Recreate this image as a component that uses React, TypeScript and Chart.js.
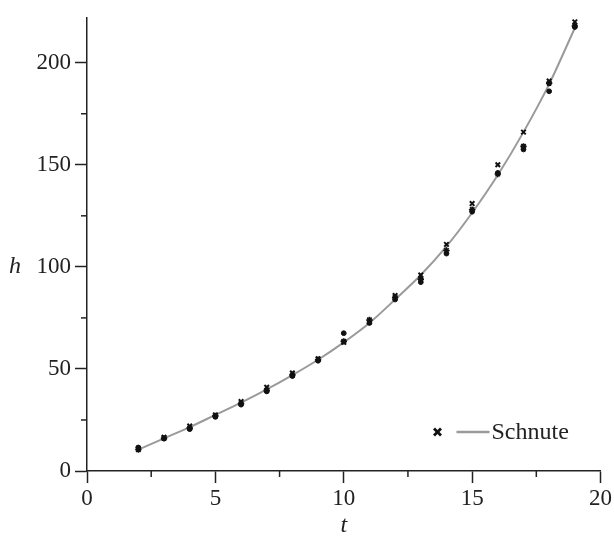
import React, { useEffect, useRef } from "react";
import { Chart, registerables } from "chart.js";

Chart.register(...registerables);

// ---- data ----
const tValues = [2, 3, 4, 5, 6, 7, 8, 9, 10, 11, 12, 13, 14, 15, 16, 17, 18, 19];
const schnuteFit = [10.5, 16, 21.5, 27.5, 33.5, 40, 47, 54.5, 63, 72.5, 84, 96, 110, 126.5, 145, 166, 189.5, 217];
const rep1 = [11, 16.5, 22, 27.5, 34, 41, 48, 55, 63, 73, 86, 96, 111, 131, 150, 166, 191, 220];
const rep2 = [10.5, 16, 21, 27, 33, 39.5, 47, 54.5, 63.5, 74, 85, 94, 108, 128, 145.5, 159, 190, 218];
const rep3 = [11.5, 16, 20.5, 26.5, 32.5, 39, 46.5, 54, 67.5, 72.5, 84, 92.5, 106.5, 127, 146, 157.5, 186, 217.5];

const xMajorTicks = [0, 5, 10, 15, 20];
const yMajorTicks = [0, 50, 100, 150, 200];
const xMinorTicks = [2.5, 7.5, 12.5, 17.5];
const yMinorTicks = [25, 75, 125, 175];
const xTitle = "t";
const yTitle = "h";
const legendLabel = "Schnute";

const FONT = "'Liberation Serif', 'DejaVu Serif', serif";
const AXIS = "#222222";
const CURVE = "#9a9a9a";

const decorPlugin = {
  id: "decor",
  afterDraw(chart: any) {
    const { ctx, chartArea, scales } = chart;
    const x = scales.x;
    const y = scales.y;
    ctx.save();
    ctx.strokeStyle = AXIS;
    ctx.lineWidth = 1.5;
    const seg = (a: number, b: number, c: number, d: number) => {
      ctx.beginPath();
      ctx.moveTo(a, b);
      ctx.lineTo(c, d);
      ctx.stroke();
    };
    xMinorTicks.forEach((v) => {
      const px = x.getPixelForValue(v);
      seg(px, chartArea.bottom, px, chartArea.bottom + 6);
    });
    yMinorTicks.forEach((v) => {
      const py = y.getPixelForValue(v);
      seg(chartArea.left - 6, py, chartArea.left, py);
    });

    // axis titles
    ctx.fillStyle = AXIS;
    ctx.font = `italic 24px ${FONT}`;
    ctx.textAlign = "center";
    ctx.textBaseline = "middle";
    ctx.fillText(xTitle, (chartArea.left + chartArea.right) / 2, chartArea.bottom + 55);
    ctx.fillText(yTitle, 15, y.getPixelForValue(100));

    // legend
    const ly = chartArea.bottom - 39;
    const mx = chartArea.right - 163;
    ctx.lineWidth = 2.8;
    ctx.strokeStyle = "#111";
    seg(mx - 3.5, ly - 3.5, mx + 3.5, ly + 3.5);
    seg(mx - 3.5, ly + 3.5, mx + 3.5, ly - 3.5);
    ctx.strokeStyle = CURVE;
    ctx.lineWidth = 2.5;
    seg(mx + 19, ly, mx + 52, ly);
    ctx.font = `24px ${FONT}`;
    ctx.textAlign = "left";
    ctx.textBaseline = "middle";
    ctx.fillStyle = AXIS;
    ctx.fillText(legendLabel, mx + 54, ly + 1);
    ctx.restore();
  },
};

export default function App() {
  const canvasRef = useRef<HTMLCanvasElement | null>(null);

  useEffect(() => {
    document.body.style.margin = "0";
    const canvas = canvasRef.current;
    if (!canvas) return;
    const pts = (vals: number[]) => tValues.map((t, i) => ({ x: t, y: vals[i] }));
    const chart = new Chart(canvas, {
      type: "scatter",
      data: {
        datasets: [
          {
            type: "line",
            label: legendLabel,
            data: pts(schnuteFit),
            borderColor: CURVE,
            borderWidth: 2,
            pointRadius: 0,
            cubicInterpolationMode: "monotone",
            showLine: true,
            order: 5,
          } as any,
          {
            label: "rep1",
            data: pts(rep1),
            pointStyle: "crossRot",
            pointRadius: 3.2,
            borderColor: "#111",
            backgroundColor: "#111",
            borderWidth: 2,
            order: 1,
          },
          {
            label: "rep2",
            data: pts(rep2),
            pointStyle: "star",
            pointRadius: 3.2,
            borderColor: "#111",
            backgroundColor: "#111",
            borderWidth: 1.6,
            order: 2,
          },
          {
            label: "rep3",
            data: pts(rep3),
            pointStyle: "circle",
            pointRadius: 2.4,
            borderColor: "#111",
            backgroundColor: "#111",
            borderWidth: 1,
            order: 3,
          },
        ],
      },
      options: {
        animation: false,
        responsive: true,
        maintainAspectRatio: false,
        layout: { padding: { top: 13, right: 11, left: 0, bottom: 0 } },
        plugins: {
          legend: { display: false },
          tooltip: { enabled: false },
        },
        scales: {
          x: {
            type: "linear",
            min: 0,
            max: 20,
            afterBuildTicks: (scale: any) => {
              scale.ticks = xMajorTicks.map((v) => ({ value: v }));
            },
            afterFit: (scale: any) => {
              scale.height = 67;
            },
            ticks: {
              font: { family: FONT, size: 23 },
              color: AXIS,
              padding: 2,
              maxRotation: 0,
            },
            grid: {
              drawOnChartArea: false,
              drawTicks: true,
              tickLength: 12,
              tickColor: AXIS,
              tickWidth: 1.5,
            },
            border: { display: true, color: AXIS, width: 1.5 },
          },
          y: {
            type: "linear",
            min: 0,
            max: 222,
            afterBuildTicks: (scale: any) => {
              scale.ticks = yMajorTicks.map((v) => ({ value: v }));
            },
            afterFit: (scale: any) => {
              scale.width = 87;
            },
            ticks: {
              font: { family: FONT, size: 23 },
              color: AXIS,
              padding: 4,
            },
            grid: {
              drawOnChartArea: false,
              drawTicks: true,
              tickLength: 12,
              tickColor: AXIS,
              tickWidth: 1.5,
            },
            border: { display: true, color: AXIS, width: 1.5 },
          },
        },
      },
      plugins: [decorPlugin],
    });
    return () => chart.destroy();
  }, []);

  return (
    <div style={{ position: "fixed", left: 0, top: 0, width: 614, height: 538, background: "#fff" }}>
      <canvas ref={canvasRef} />
    </div>
  );
}
